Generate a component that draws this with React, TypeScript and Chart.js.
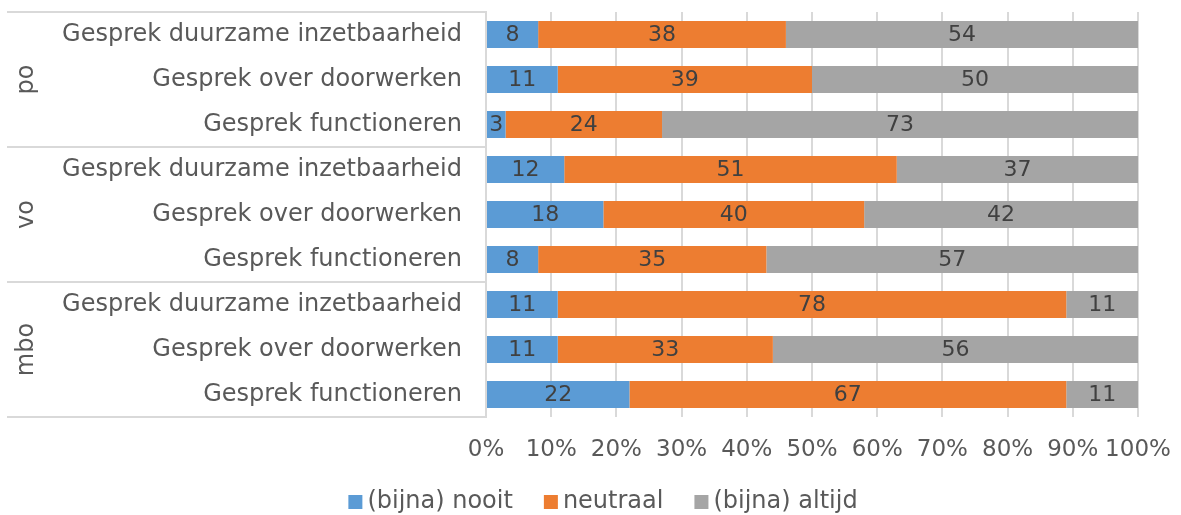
import React, { useEffect, useRef } from "react";
import { Chart, registerables } from "chart.js";

Chart.register(...registerables);

const groups = ["po", "vo", "mbo"];
const items = [
  "Gesprek duurzame inzetbaarheid",
  "Gesprek over doorwerken",
  "Gesprek functioneren",
];
const categories = groups.flatMap(() => items);
const seriesNames = ["(bijna) nooit", "neutraal", "(bijna) altijd"];
const nooit = [8, 11, 3, 12, 18, 8, 11, 11, 22];
const neutraal = [38, 39, 24, 51, 40, 35, 78, 33, 67];
const altijd = [54, 50, 73, 37, 42, 57, 11, 56, 11];
const seriesColors = ["#5B9BD5", "#ED7D31", "#A5A5A5"];
const tickStep = 10;
const tickMax = 100;

const FONT = "'DejaVu Sans', Verdana, sans-serif";
const GRID = "#d9d9d9";
const TEXT = "#595959";

const groupPlugin = {
  id: "groupLabels",
  afterDraw(chart: any) {
    const { ctx, chartArea } = chart;
    const y = chart.scales.y;
    const per = items.length;
    const bounds: number[] = [];
    for (let g = 0; g <= groups.length; g++) {
      if (g === 0) bounds.push(chartArea.top);
      else if (g === groups.length) bounds.push(chartArea.bottom);
      else
        bounds.push(
          (y.getPixelForValue(g * per - 1) + y.getPixelForValue(g * per)) / 2
        );
    }
    ctx.save();
    ctx.strokeStyle = GRID;
    ctx.lineWidth = 2;
    bounds.forEach((b) => {
      const yy = Math.round(b);
      ctx.beginPath();
      ctx.moveTo(7, yy);
      ctx.lineTo(chartArea.left, yy);
      ctx.stroke();
    });
    ctx.fillStyle = TEXT;
    ctx.font = `24px ${FONT}`;
    ctx.textAlign = "center";
    ctx.textBaseline = "middle";
    groups.forEach((name, g) => {
      const cy = (bounds[g] + bounds[g + 1]) / 2;
      ctx.save();
      ctx.translate(27, cy);
      ctx.rotate(-Math.PI / 2);
      ctx.fillText(name, 0, 0);
      ctx.restore();
    });
    ctx.restore();
  },
};

const valueLabelPlugin = {
  id: "valueLabels",
  afterDatasetsDraw(chart: any) {
    const { ctx } = chart;
    ctx.save();
    ctx.fillStyle = "#404040";
    ctx.font = `22px ${FONT}`;
    ctx.textAlign = "center";
    ctx.textBaseline = "middle";
    chart.data.datasets.forEach((ds: any, i: number) => {
      const meta = chart.getDatasetMeta(i);
      meta.data.forEach((el: any, j: number) => {
        const { x, base, y } = el.getProps(["x", "base", "y"], true);
        ctx.fillText(String(ds.data[j]), (x + base) / 2, y + 1);
      });
    });
    ctx.restore();
  },
};

const legendPlugin = {
  id: "customLegend",
  afterDraw(chart: any) {
    const { ctx } = chart;
    const box = 14;
    const gap = 5;
    const itemGap = 31;
    const centerX = 603;
    const cy = 502;
    ctx.save();
    ctx.font = `24px ${FONT}`;
    const ds = chart.data.datasets;
    const widths = ds.map((d: any) => box + gap + ctx.measureText(d.label).width);
    const total =
      widths.reduce((a: number, b: number) => a + b, 0) + itemGap * (ds.length - 1);
    let x = centerX - total / 2;
    ds.forEach((d: any, i: number) => {
      ctx.fillStyle = d.backgroundColor;
      ctx.fillRect(x, cy - box / 2, box, box);
      ctx.fillStyle = TEXT;
      ctx.textAlign = "left";
      ctx.textBaseline = "middle";
      ctx.fillText(d.label, x + box + gap, cy);
      x += widths[i] + itemGap;
    });
    ctx.restore();
  },
};

export default function App() {
  const ref = useRef<HTMLCanvasElement>(null);
  useEffect(() => {
    if (!ref.current) return;
    Chart.defaults.font.family = FONT;
    Chart.defaults.color = TEXT;
    const seriesValues = [nooit, neutraal, altijd];
    const chart = new Chart(ref.current, {
      type: "bar",
      data: {
        labels: categories,
        datasets: seriesNames.map((name, i) => ({
          label: name,
          data: seriesValues[i],
          backgroundColor: seriesColors[i],
          borderWidth: 0,
          categoryPercentage: 0.6,
          barPercentage: 1,
        })),
      },
      options: {
        indexAxis: "y",
        animation: false,
        responsive: false,
        layout: { padding: { top: 12, right: 43, left: 0, bottom: 0 } },
        plugins: {
          legend: { display: false },
          tooltip: { enabled: false },
        },
        scales: {
          x: {
            stacked: true,
            min: 0,
            max: tickMax,
            grid: { color: GRID, lineWidth: 2, drawTicks: false },
            border: { display: false },
            ticks: {
              stepSize: tickStep,
              autoSkip: false,
              maxRotation: 0,
              minRotation: 0,
              padding: 19,
              color: TEXT,
              font: { size: 23 },
              callback: (v: any) => `${v}%`,
            },
            afterFit: (s: any) => {
              s.height = 98;
              s.paddingLeft = 0;
              s.paddingRight = 0;
            },
          },
          y: {
            stacked: true,
            grid: { display: false, drawTicks: false },
            border: { display: true, color: GRID, width: 2 },
            ticks: {
              padding: 24,
              color: TEXT,
              font: { size: 24 },
              autoSkip: false,
            },
            afterFit: (s: any) => {
              s.width = 486;
              s.paddingTop = 0;
              s.paddingBottom = 0;
            },
          },
        },
      },
      plugins: [groupPlugin, valueLabelPlugin, legendPlugin],
    });
    return () => chart.destroy();
  }, []);
  return (
    <div style={{ position: "fixed", left: 0, top: 0, width: 1181, height: 515, background: "#fff" }}>
      <canvas ref={ref} width={1181} height={515} style={{ display: "block" }} />
    </div>
  );
}
